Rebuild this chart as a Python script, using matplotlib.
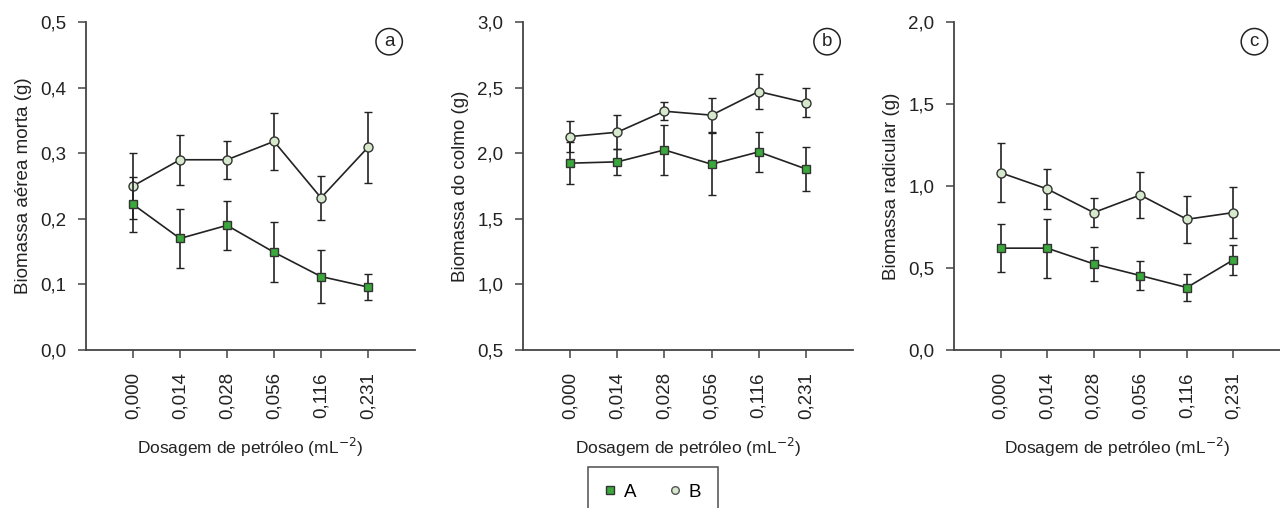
import numpy as np
import matplotlib
matplotlib.use('Agg')
import matplotlib.pyplot as plt
from matplotlib.ticker import FuncFormatter, MultipleLocator

plt.rcParams['font.family'] = ['Liberation Sans', 'DejaVu Sans']

doses = ['0,000', '0,014', '0,028', '0,056', '0,116', '0,231']

# panel a - biomassa aerea morta
a_A = [0.222, 0.170, 0.190, 0.149, 0.112, 0.096]
a_A_err = [0.042, 0.045, 0.037, 0.046, 0.040, 0.020]
a_B = [0.250, 0.290, 0.290, 0.318, 0.232, 0.309]
a_B_err = [0.050, 0.038, 0.029, 0.044, 0.034, 0.054]

# panel b - biomassa do colmo
b_A = [1.924, 1.934, 2.025, 1.916, 2.010, 1.880]
b_A_err = [0.160, 0.100, 0.190, 0.235, 0.155, 0.170]
b_B = [2.127, 2.160, 2.320, 2.290, 2.470, 2.385]
b_B_err = [0.115, 0.130, 0.070, 0.130, 0.130, 0.110]

# panel c - biomassa radicular
c_A = [0.621, 0.621, 0.525, 0.454, 0.381, 0.550]
c_A_err = [0.145, 0.180, 0.105, 0.090, 0.082, 0.090]
c_B = [1.081, 0.982, 0.838, 0.945, 0.797, 0.838]
c_B_err = [0.180, 0.120, 0.090, 0.140, 0.145, 0.155]

panels = [
    ('a', a_A, a_A_err, a_B, a_B_err, 'Biomassa aérea morta (g)', (0.0, 0.5), 0.1),
    ('b', b_A, b_A_err, b_B, b_B_err, 'Biomassa do colmo (g)', (0.5, 3.0), 0.5),
    ('c', c_A, c_A_err, c_B, c_B_err, 'Biomassa radicular (g)', (0.0, 2.0), 0.5),
]

green = '#3aa83a'
light = '#d6e9cc'
dark = '#222222'
spine_col = '#444444'

W, H = 1280, 508
fig = plt.figure(figsize=(12.8, 5.08), dpi=100)
lefts = [86, 523, 954]
widths = [329, 330, 326]

x = np.arange(1, len(doses) + 1)
for (tag, yA, eA, yB, eB, ylab, ylim, step), l, w in zip(panels, lefts, widths):
    ax = fig.add_axes([l / W, 1 - 350 / H, w / W, (350 - 22) / H])
    ax.errorbar(x, yB, yerr=eB, color=dark, lw=1.2, elinewidth=1.2, capsize=2.6,
                capthick=1.2, marker='o', ms=6.5, mfc=light, mec='#333333', mew=1.0,
                zorder=3, label='B')
    ax.errorbar(x, yA, yerr=eA, color=dark, lw=1.2, elinewidth=1.2, capsize=2.6,
                capthick=1.2, marker='s', ms=6, mfc=green, mec='#333333', mew=1.0,
                zorder=4, label='A')
    ax.set_xlim(0, 7)
    ax.set_ylim(*ylim)
    ax.set_xticks(x)
    ax.set_xticklabels(doses, rotation=90, fontsize=13.5, color='#222222')
    ax.yaxis.set_major_locator(MultipleLocator(step))
    ax.yaxis.set_major_formatter(FuncFormatter(lambda v, _: '{:.1f}'.format(v).replace('.', ',')))
    ax.tick_params(axis='y', labelsize=13.5, colors='#222222', length=6, width=1.1,
                   color=spine_col, pad=8)
    ax.tick_params(axis='x', length=6, width=1.1, color=spine_col, pad=10)
    for s in ['top', 'right']:
        ax.spines[s].set_visible(False)
    for s in ['left', 'bottom']:
        ax.spines[s].set_color(spine_col)
        ax.spines[s].set_linewidth(1.3)
    ax.set_ylabel(ylab, fontsize=13.5, color='#222222', labelpad=6)
    ax.set_xlabel('Dosagem de petróleo (mL$^{\u22122}$)', fontsize=12.5, color='#222222', labelpad=12)
    ax.text(6.45, ylim[0] + (ylim[1] - ylim[0]) * 0.94, tag, fontsize=13.5, ha='center',
            va='center', color='#222222',
            bbox=dict(boxstyle='circle,pad=0.25', fc='white', ec='#222222', lw=1.1))

handles = [
    plt.Line2D([], [], ls='none', marker='s', ms=5.5, mfc=green, mec='#333333', mew=1.0),
    plt.Line2D([], [], ls='none', marker='o', ms=5.5, mfc=light, mec='#555555', mew=1.0),
]
leg = fig.legend(handles, ['A', 'B'], loc='upper left', bbox_to_anchor=(588 / W, 1 - 467 / H),
                 ncol=2, fontsize=13.5, frameon=True, fancybox=False, edgecolor='#222222',
                 handlelength=0.5, handletextpad=0.5, columnspacing=1.8, borderpad=0.9,
                 borderaxespad=0)
leg.get_frame().set_linewidth(1.1)

fig.savefig('out.png', dpi=100)
